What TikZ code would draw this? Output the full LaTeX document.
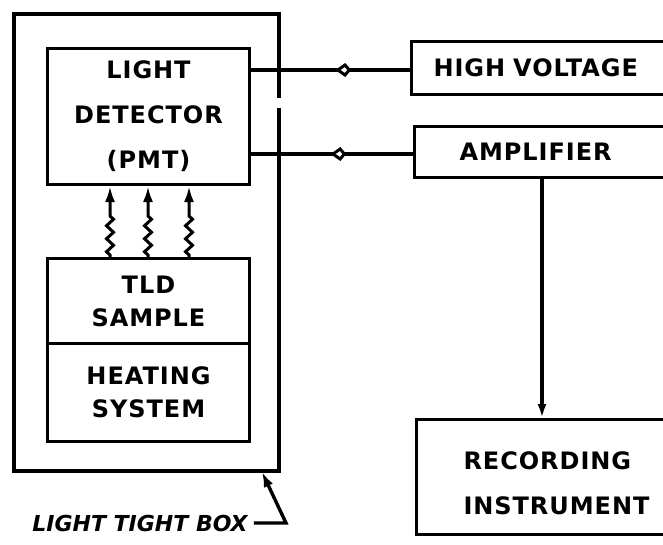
\documentclass[tikz,border=0pt]{standalone}
\usepackage{fontspec}
\newfontfamily\lbl[LetterSpace=4]{DejaVu Sans}
\newfontfamily\lblplain{DejaVu Sans}
\usetikzlibrary{arrows.meta,decorations.pathmorphing,decorations.markings}
\begin{document}
\begin{tikzpicture}[x=1pt,y=-1pt,
  blk/.style={draw, line width=3pt, inner sep=0pt, align=center,
    font=\lbl\bfseries\fontsize{24}{45}\selectfont},
  tight/.style={font=\lbl\bfseries\fontsize{24}{33}\selectfont},
  openblk/.style={draw, line width=3pt, inner ysep=0pt, align=left,
    font=\lbl\bfseries\fontsize{24}{45}\selectfont},
  wall/.style={line width=4pt},
  wire/.style={line width=3.4pt},
  photon/.style={line width=3pt, -{Latex[length=16pt,width=10pt]},
    decorate, decoration={zigzag, amplitude=3.5pt, segment length=13pt,
      pre length=2pt, post length=24pt}},
  valve/.style={postaction={decorate, decoration={markings,
      mark=at position #1 with {\arrowreversed{Kite[length=16pt,width=14pt,inset=6pt,fill=white,line width=3pt]}}}}}
]
\useasboundingbox (0,0) rectangle (663,544);

% light tight box (outer wall with a gap on the right)
\coordinate (wgapA) at (279,98);
\coordinate (wgapB) at (279,108);
\draw[wall] (wgapA) -- (279,14) -- (14,14) -- (14,471) -- (279,471) -- (wgapB);
\coordinate (ltbtip) at (262,472);

% inner blocks
\node[blk, anchor=north west, minimum width=202pt, minimum height=136pt] (pmt) at (46,47)
  {LIGHT\\DETECTOR\\(PMT)};
\node[blk, tight, anchor=north west, minimum width=202pt, minimum height=85pt] (tld) at (46,257)
  {TLD\\SAMPLE};
\node[blk, tight, anchor=north west, minimum width=202pt, minimum height=98pt] (heat) at (46,342)
  {HEATING\\SYSTEM};

% external blocks (running off the right edge)
\node[openblk, anchor=north west, minimum height=53pt, inner xsep=22pt, text width=246pt] (hv) at (410,40)
  {HIGH VOLTAGE};
\node[openblk, anchor=north west, minimum height=51pt, inner xsep=45pt, text width=200pt] (amp) at (413,125)
  {AMPLIFIER};
\node[openblk, anchor=north west, minimum height=115pt, inner xsep=47pt, text width=200pt,
  text height=30pt] (rec) at (415,418)
  {RECORDING\\INSTRUMENT};

% connections
\draw[wire, valve=0.53] (pmt.east |- 0,70) -- (hv.west |- 0,70);
\draw[wire, valve=0.49] (pmt.east |- 0,154) -- (amp.west |- 0,154);
\draw[wire, -{Latex[length=14pt,width=9pt]}] (amp.south -| 542,0) -- (rec.north -| 542,0);

% light from TLD sample to detector
\foreach \x in {110,148,189}
  \draw[photon] (tld.north -| \x,0) -- (pmt.south -| \x,0);

% leader
\node[font=\lblplain\bfseries\itshape\fontsize{22}{24}\selectfont, inner sep=0pt] (ltb) at (140,523) {LIGHT TIGHT BOX};
\draw[wire, -{Latex[length=15pt,width=10pt]}] ([xshift=6pt]ltb.east) -- (286,523) -- (ltbtip);
\end{tikzpicture}
\end{document}
